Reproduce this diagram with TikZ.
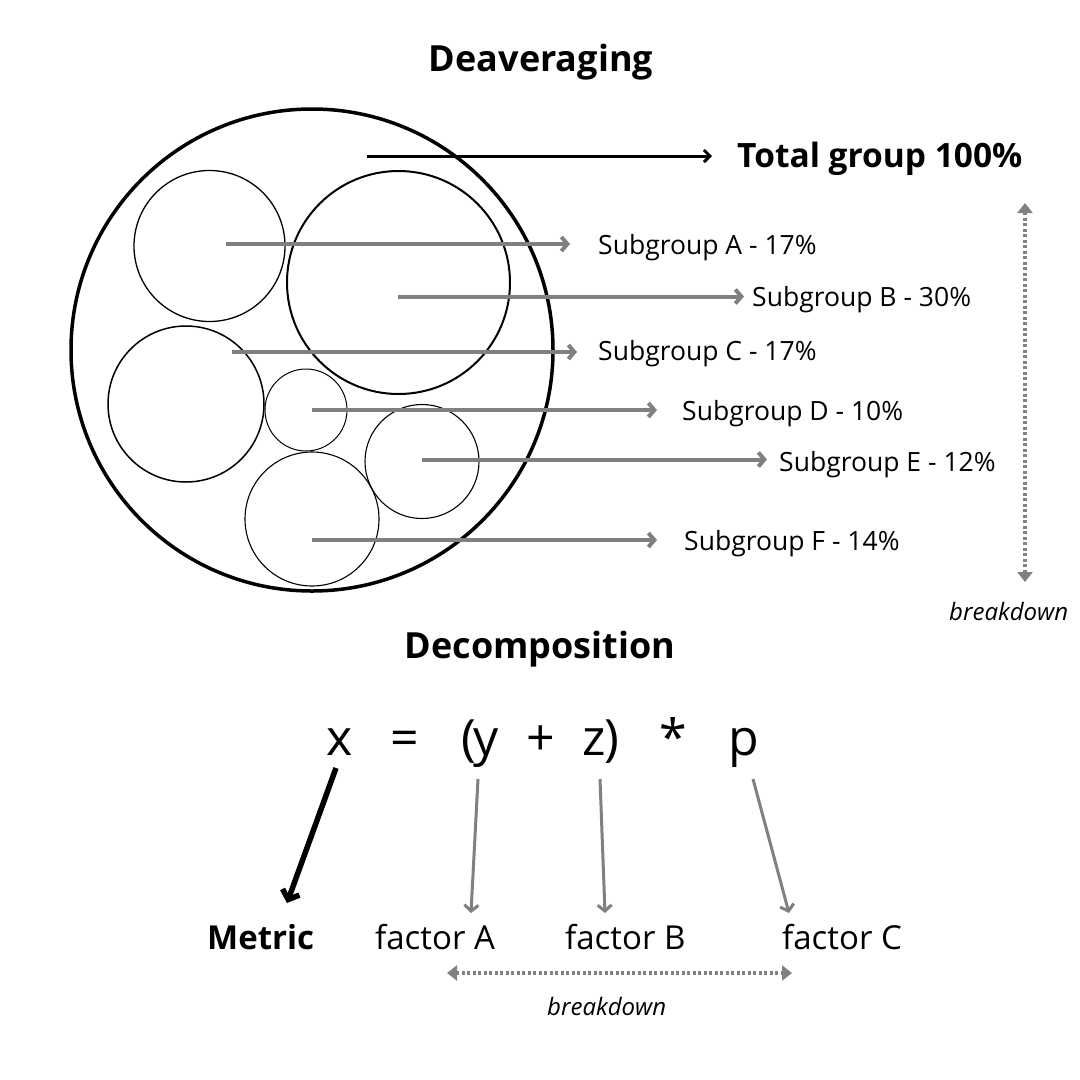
\documentclass[tikz,border=0pt]{standalone}
\usepackage{fontspec}
\setmainfont{Open Sans}
\usetikzlibrary{arrows.meta}
\definecolor{agray}{RGB}{128,128,128}
\begin{document}
\begin{tikzpicture}[x=1pt,y=-1pt,
  ring/.style={circle,draw=black,inner sep=0pt,minimum size=#1},
  garrow/.style={draw=agray,line width=4pt,-{Straight Barb[length=6pt,width=14pt]}},
  karrow/.style={draw=black,line width=3pt,-{Straight Barb[length=6pt,width=12pt]}},
  marrow/.style={draw=black,line width=5.5pt,-{Straight Barb[length=8pt,width=18pt]}},
  dotarrow/.style={draw=agray,line width=3.5pt,dash pattern=on 3pt off 2.5pt,{Triangle[length=10pt,width=15pt]}-{Triangle[length=10pt,width=15pt]}},
  txt/.style={inner sep=0pt,font=\fontsize{26.5}{30}\selectfont},
  btitle/.style={inner sep=0pt,font=\fontsize{36}{40}\selectfont\bfseries},
  btot/.style={inner sep=0pt,font=\fontsize{33.5}{36}\selectfont\bfseries},
  lbl/.style={inner sep=0pt,font=\fontsize{33}{36}\selectfont},
  eq/.style={inner sep=0pt,anchor=base,font=\fontsize{50}{60}\selectfont},
  itl/.style={inner sep=0pt,font=\fontsize{24}{28}\selectfont\itshape}
]
\path[use as bounding box,fill=white] (0,0) rectangle (1080,1080);

% circles
\node[ring=482pt,line width=3.5pt] (cOut) at (312,350) {};
\node[ring=151pt,line width=1.3pt] (cA) at (209.5,246) {};
\node[ring=223pt,line width=2pt] (cB) at (398.5,282.5) {};
\node[ring=156pt,line width=1.5pt] (cC) at (186,404) {};
\node[ring=82pt,line width=1pt] (cD) at (306,410) {};
\node[ring=114pt,line width=1.1pt] (cE) at (422,461.5) {};
\node[ring=134pt,line width=1.1pt] (cF) at (312,519) {};

% titles
\node[btitle,anchor=base] (tDeav) at (541,71) {Deaveraging};
\node[btot,anchor=base west] (tTot) at (737,167) {Total group 100\%};
\node[btitle,anchor=base] (tDec) at (540,658) {Decomposition};

% subgroup labels
\node[txt,anchor=base west] (lA) at (598,254) {Subgroup A - 17\%};
\node[txt,anchor=base west] (lB) at (752,306) {Subgroup B - 30\%};
\node[txt,anchor=base west] (lC) at (598,360) {Subgroup C - 17\%};
\node[txt,anchor=base west] (lD) at (682,420) {Subgroup D - 10\%};
\node[txt,anchor=base west] (lE) at (779,471) {Subgroup E - 12\%};
\node[txt,anchor=base west] (lF) at (684,550) {Subgroup F - 14\%};

% arrow coordinates
\coordinate (sT) at (367,156); \coordinate (eT) at (712,156);
\coordinate (sA) at (226,244); \coordinate (eA) at (570,244);
\coordinate (sB) at (398,296.5); \coordinate (eB) at (744,296.5);
\coordinate (sC) at (232,352); \coordinate (eC) at (577,352);
\coordinate (sD) at (312,410); \coordinate (eD) at (657,410);
\coordinate (sE) at (422,459.5); \coordinate (eE) at (767,459.5);
\coordinate (sF) at (312,540); \coordinate (eF) at (657,540);

\draw[karrow] (sT) -- (eT);
\draw[garrow] (sA) -- (eA);
\draw[garrow] (sB) -- (eB);
\draw[garrow] (sC) -- (eC);
\draw[garrow] (sD) -- (eD);
\draw[garrow] (sE) -- (eE);
\draw[garrow] (sF) -- (eF);

% vertical breakdown
\coordinate (vTop) at (1025,203); \coordinate (vBot) at (1025,582);
\draw[dotarrow] (vTop) -- (vBot);
\node[itl,anchor=base west] (bk1) at (949,620) {breakdown};

% equation
\node[eq] (ex) at (339.5,755) {x};
\node[eq] (eeq) at (405,755) {=};
\node[eq] (elp) at (468.5,755) {(};
\node[eq] (ey) at (486.5,755) {y};
\node[eq] (eplus) at (541,755) {+};
\node[eq] (ez) at (594,755) {z};
\node[eq] (erp) at (612,755) {)};
\node[eq] (estar) at (673,755) {*};
\node[eq] (ep) at (744,755) {p};

% bottom labels
\node[lbl,anchor=base west,font=\fontsize{33}{36}\selectfont\bfseries] (lMet) at (207,949) {Metric};
\node[lbl,anchor=base west] (lFA) at (375,949) {factor A};
\node[lbl,anchor=base west] (lFB) at (565,949) {factor B};
\node[lbl,anchor=base west] (lFC) at (782,949) {factor C};

% decomposition arrows
\coordinate (mS) at (336,768); \coordinate (mE) at (287,903);
\draw[marrow] (mS) -- (mE);
\coordinate (aS) at (478,779); \coordinate (aE) at (471,913);
\coordinate (bS) at (600,779); \coordinate (bE) at (605,913);
\coordinate (cS) at (753,779); \coordinate (cE) at (789,913);
\draw[garrow,line width=3pt] (aS) -- (aE);
\draw[garrow,line width=3pt] (bS) -- (bE);
\draw[garrow,line width=3pt] (cS) -- (cE);

% horizontal breakdown
\coordinate (hL) at (447,973); \coordinate (hR) at (792,973);
\draw[dotarrow] (hL) -- (hR);
\node[itl,anchor=base west] (bk2) at (547,1015) {breakdown};
\end{tikzpicture}
\end{document}
